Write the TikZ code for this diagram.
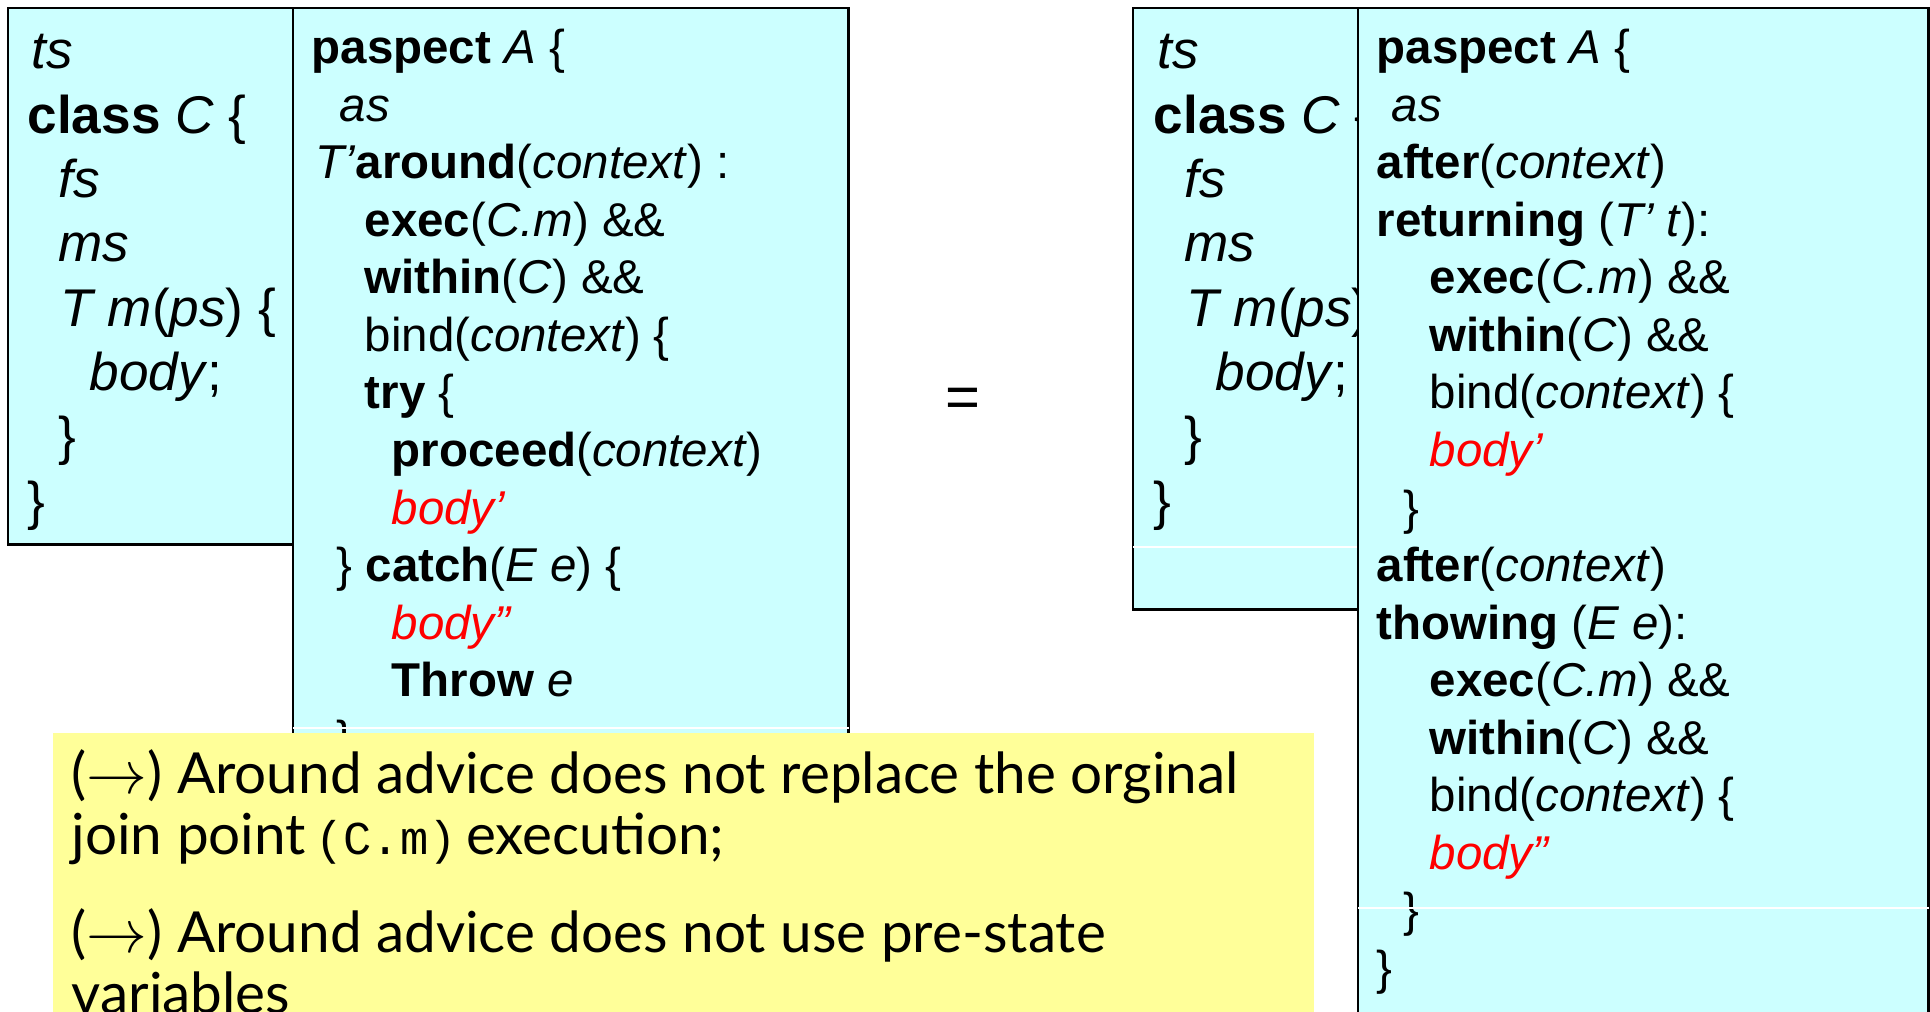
\documentclass[tikz,border=0pt]{standalone}
\usepackage{fontspec}
\setmainfont{Liberation Sans}
\newfontfamily\notefont{Lato}
\newfontfamily\notemono{Liberation Mono}
\usetikzlibrary{calc}

\definecolor{boxcyan}{RGB}{204,255,255}
\definecolor{noteyellow}{RGB}{255,255,153}

\newcommand{\kw}[1]{\textbf{#1}}
\newcommand{\va}[1]{\textit{#1}}
\newcommand{\redva}[1]{\textcolor{red}{\textit{#1}}}
\newcommand{\ind}[1]{\hspace*{#1}}
% fixed height for the first line, so that north = baseline - 15pt
\newcommand{\topline}{\rule{0pt}{15pt}}

% the base class, shown twice
\newcommand{\classcode}{%
  \topline\ind{0.04cm}\va{ts}\\
  \kw{class} \va{C} \{\\
  \ind{0.31cm}\va{fs}\\
  \ind{0.31cm}\va{ms}\\
  \ind{0.33cm}\va{T m}(\va{ps}) \{\\
  \ind{0.62cm}\va{body};\\
  \ind{0.31cm}\}\\
  \}}

\tikzset{
  codebox/.style={draw=black, line width=0.7pt, fill=boxcyan, rectangle,
    inner sep=0pt, anchor=north west},
  code/.style={inner sep=0pt, anchor=north west, align=left,
    font=\fontsize{13.5pt}{16.36pt}\selectfont},
  bigcode/.style={inner sep=0pt, anchor=north west, align=left,
    font=\fontsize{15.1pt}{18.3pt}\selectfont},
  notebox/.style={fill=noteyellow, rectangle, inner sep=0pt, anchor=north west},
  notetext/.style={inner sep=0pt, anchor=north west, align=left,
    font=\notefont\fontsize{16.1pt}{17.36pt}\selectfont},
  seam/.style={white, line width=0.3pt}
}

\begin{document}
\begin{tikzpicture}[x=0.01cm, y=-0.01cm]

	% page frame
	\useasboundingbox (0,0) rectangle (1930,1011);
	\clip (0,0) rectangle (1930,1011);

	% left: class C
	\node[codebox, minimum width=2.85cm, minimum height=5.36cm] (classL) at (7,7) {};
	\node[bigcode] (classLtext) at ($(classL.north west)+(20,8.3)$) {\classcode};

	% left: around advice
	\node[codebox, minimum width=5.55cm, minimum height=7.6cm] (aroundA) at (292,7) {};
	\node[code] (aroundAtext) at ($(aroundA.north west)+(19,3.3)$) {%
		\topline\kw{paspect} \va{A} \{\\
		\ind{0.28cm}\va{as}\\
		\ind{0.04cm}\va{T’}\kw{around}(\va{context}) :\\
		\ind{0.53cm}\kw{exec}(\va{C.m}) \&\&\\
		\ind{0.53cm}\kw{within}(\va{C}) \&\&\\
		\ind{0.53cm}bind(\va{context}) \{\\
		\ind{0.53cm}\kw{try} \{\\
		\ind{0.80cm}\kw{proceed}(\va{context})\\
		\ind{0.80cm}\redva{body’}\\
		\ind{0.25cm}\} \kw{catch}(\va{E e}) \{\\
		\ind{0.80cm}\redva{body”}\\
		\ind{0.80cm}\kw{Throw} \va{e}\\
		\ind{0.25cm}\}};
	\draw[seam] ($(aroundA.north west)+(1,721)$) -- ($(aroundA.north east)+(-1,721)$);

	% equals sign
	\node[inner sep=0pt, font=\fontsize{17pt}{20pt}\selectfont] (eq) at (963,403) {=};

	% right: class C again
	\node[codebox, minimum width=2.25cm, minimum height=6.01cm] (classR) at (1132,7) {};
	\node[bigcode] (classRtext) at ($(classR.north west)+(21,8.3)$) {\classcode};
	\draw[seam] ($(classR.north west)+(1,540)$) -- ($(classR.north east)+(-1,540)$);

	% right: after returning / after throwing
	\node[codebox, minimum width=5.7cm, minimum height=10.4cm] (afterA) at (1357,7) {};
	\node[code] (afterAtext) at ($(afterA.north west)+(19,3.3)$) {%
		\topline\kw{paspect} \va{A} \{\\
		\ind{0.15cm}\va{as}\\
		\kw{after}(\va{context})\\
		\kw{returning} (\va{T’ t}):\\
		\ind{0.53cm}\kw{exec}(\va{C.m}) \&\&\\
		\ind{0.53cm}\kw{within}(\va{C}) \&\&\\
		\ind{0.53cm}bind(\va{context}) \{\\
		\ind{0.53cm}\redva{body’}\\
		\ind{0.27cm}\}\\
		\kw{after}(\va{context})\\
		\kw{thowing} (\va{E e}):\\
		\ind{0.53cm}\kw{exec}(\va{C.m}) \&\&\\
		\ind{0.53cm}\kw{within}(\va{C}) \&\&\\
		\ind{0.53cm}bind(\va{context}) \{\\
		\ind{0.53cm}\redva{body”}\\
		\ind{0.27cm}\}\\
		\}};
	\draw[seam] ($(afterA.north west)+(1,901)$) -- ($(afterA.north east)+(-1,901)$);

	% yellow remark
	\node[notebox, minimum width=12.61cm, minimum height=3.2cm] (note) at (52,732) {};
	\node[notetext] (notetext) at ($(note.north west)+(19,8.3)$) {%
		\topline($\rightarrow$) Around advice does not replace the orginal\\
		join point\,{\notemono\fontsize{13.4pt}{17.36pt}\selectfont(C.m)}\,execution;\\[0.37cm]
		($\rightarrow$) Around advice does not use pre-state\\
		variables};

\end{tikzpicture}
\end{document}
